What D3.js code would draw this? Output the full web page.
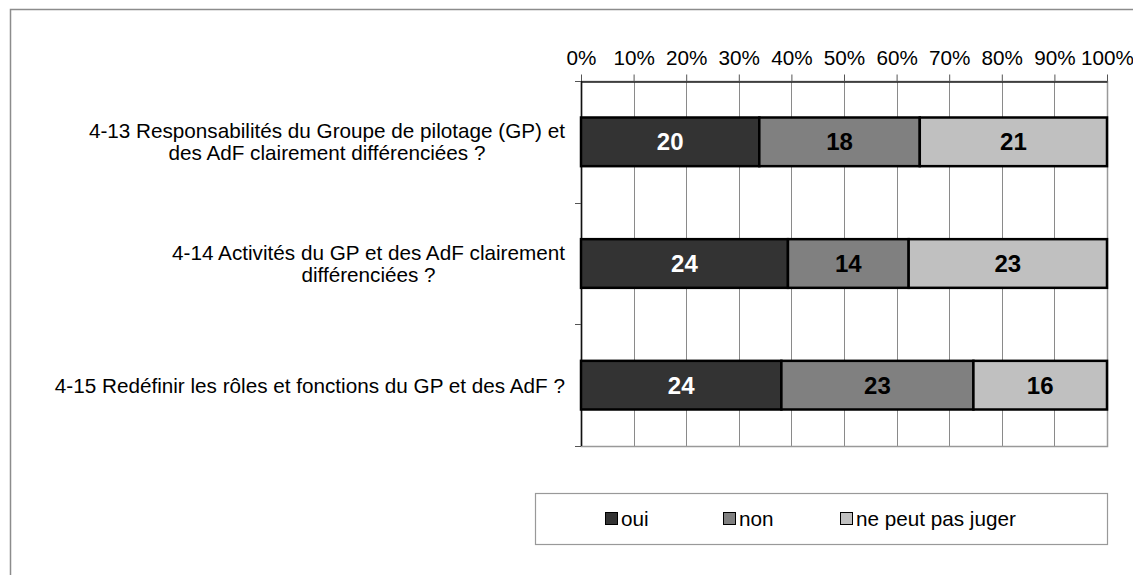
<!DOCTYPE html>
<html>
<head>
  <meta charset="utf-8">
  <title>4-13 / 4-15</title>
  <script src="https://cdnjs.cloudflare.com/ajax/libs/d3/7.8.5/d3.min.js"></script>
  <style>
    body { margin: 0; background: #fff; }
    svg { display: block; font-family: "Liberation Sans", Arial, sans-serif; }
  </style>
</head>
<body>
<div id="chart"></div>
<script>
// data
var categories = [
  "4-13 Responsabilités du Groupe de pilotage (GP) et\ndes AdF clairement différenciées ?",
  "4-14 Activités du GP et des AdF clairement\ndifférenciées ?",
  "4-15 Redéfinir les rôles et fonctions du GP et des AdF ?"
];
var seriesNames = ["oui", "non", "ne peut pas juger"];
var oui = [20, 24, 24];
var non = [18, 14, 23];
var npj = [21, 23, 16];
var tickValues = [0, 0.1, 0.2, 0.3, 0.4, 0.5, 0.6, 0.7, 0.8, 0.9, 1];
var tickLabels = ["0%", "10%", "20%", "30%", "40%", "50%", "60%", "70%", "80%", "90%", "100%"];

var colors = ["#333333", "#808080", "#c0c0c0"];
var labelColors = ["#ffffff", "#000000", "#000000"];

var W = 1133, H = 575;
var plot = {left: 581, right: 1107, top: 81, bottom: 446};
var fs = "20.7px";

var svg = d3.select("#chart").append("svg")
  .attr("width", W).attr("height", H);

// outer chart border (goes past the window edges)
svg.append("rect")
  .attr("x", 10.5).attr("y", 9.5)
  .attr("width", W + 20).attr("height", H + 20)
  .attr("fill", "none").attr("stroke", "#8c8c8c").attr("stroke-width", 1.5);

var x = d3.scaleLinear().domain([0, 1]).range([plot.left, plot.right]);
var y = d3.scaleBand().domain(categories)
  .range([plot.top, plot.bottom])
  .paddingInner(0.6).paddingOuter(0.3);

// gridlines
svg.append("g").selectAll("line")
  .data(tickValues.slice(1))
  .join("line")
  .attr("x1", d => Math.round(x(d)) + 0.5).attr("x2", d => Math.round(x(d)) + 0.5)
  .attr("y1", plot.top).attr("y2", plot.bottom)
  .attr("stroke", "#8a8a8a").attr("stroke-width", 1);

// plot area border
svg.append("rect")
  .attr("x", plot.left + 0.5).attr("y", plot.top + 0.5)
  .attr("width", plot.right - plot.left).attr("height", plot.bottom - plot.top)
  .attr("fill", "none").attr("stroke", "#999").attr("stroke-width", 1.5);

// top axis
var xAxis = svg.append("g")
  .attr("transform", "translate(0," + (plot.top + 0.5) + ")")
  .call(d3.axisTop(x).tickValues(tickValues)
    .tickFormat((d, i) => tickLabels[i]).tickSizeInner(7).tickSizeOuter(0).tickPadding(10));
xAxis.select(".domain").attr("stroke", "#222").attr("stroke-width", 1.5);
xAxis.selectAll(".tick line").attr("stroke", "#555");
xAxis.selectAll("text").attr("font-size", fs).attr("fill", "#000")
  .attr("font-family", "Liberation Sans, Arial, sans-serif");

// left axis line and category separators
var step = y.step();
var bounds = d3.range(categories.length + 1).map(i => plot.top + i * step);
svg.append("line")
  .attr("x1", plot.left + 0.5).attr("x2", plot.left + 0.5)
  .attr("y1", plot.top).attr("y2", plot.bottom)
  .attr("stroke", "#111").attr("stroke-width", 1.5);
svg.append("g").selectAll("line")
  .data(bounds)
  .join("line")
  .attr("x1", plot.left - 6).attr("x2", plot.left)
  .attr("y1", d => Math.round(d) + 0.5).attr("y2", d => Math.round(d) + 0.5)
  .attr("stroke", "#555");

// stacked bars
var rows = categories.map((c, i) => {
  var vals = [oui[i], non[i], npj[i]];
  var total = d3.sum(vals);
  var acc = 0;
  return vals.map((v, k) => {
    var seg = {cat: c, k: k, v: v, x0: acc / total, x1: (acc + v) / total};
    acc += v;
    return seg;
  });
});

var segs = rows.flat();
svg.append("g").selectAll("rect")
  .data(segs)
  .join("rect")
  .attr("x", d => x(d.x0)).attr("width", d => x(d.x1) - x(d.x0))
  .attr("y", d => y(d.cat)).attr("height", y.bandwidth())
  .attr("fill", d => colors[d.k])
  .attr("stroke", "#000").attr("stroke-width", 2.5);

svg.append("g").selectAll("text")
  .data(segs)
  .join("text")
  .attr("x", d => (x(d.x0) + x(d.x1)) / 2)
  .attr("y", d => y(d.cat) + y.bandwidth() / 2)
  .attr("dy", "0.36em")
  .attr("text-anchor", "middle")
  .attr("font-size", "24px").attr("font-weight", "bold")
  .attr("fill", d => labelColors[d.k])
  .text(d => d.v);

// category labels: lines centred, block right-aligned
var lineH = 22;
var catG = svg.append("g");
categories.forEach(function (c) {
  var lines = c.split("\n");
  var g = catG.append("g");
  var texts = g.selectAll("text").data(lines).join("text")
    .attr("font-size", fs).attr("fill", "#000")
    .attr("text-anchor", "middle")
    .text(d => d);
  var maxW = d3.max(texts.nodes(), n => n.getComputedTextLength());
  var cx = 565 - maxW / 2;
  var cy = y(c) + y.bandwidth() / 2;
  texts.attr("x", cx)
    .attr("y", (d, i) => cy + (i - (lines.length - 1) / 2) * lineH)
    .attr("dy", "0.36em");
});

// legend
var legend = svg.append("g");
legend.append("rect")
  .attr("x", 535.5).attr("y", 493.5).attr("width", 572).attr("height", 51)
  .attr("fill", "#fff").attr("stroke", "#999").attr("stroke-width", 1.2);
var legendX = [605, 723, 840];
seriesNames.forEach(function (name, i) {
  legend.append("rect")
    .attr("x", legendX[i] + 0.5).attr("y", 512.5).attr("width", 12).attr("height", 12)
    .attr("fill", colors[i]).attr("stroke", "#000").attr("stroke-width", 1);
  legend.append("text")
    .attr("x", legendX[i] + 16).attr("y", 519).attr("dy", "0.36em")
    .attr("font-size", fs).attr("fill", "#000")
    .text(name);
});
</script>
</body>
</html>
